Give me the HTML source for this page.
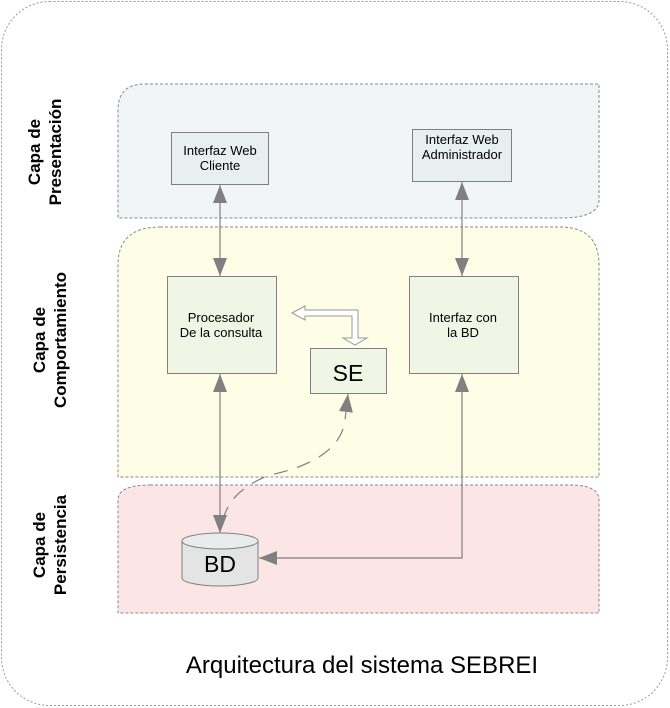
<!DOCTYPE html>
<html><head><meta charset="utf-8"><style>
html,body{margin:0;padding:0;background:#fff;}
svg{display:block;font-family:"Liberation Sans",sans-serif;}
</style></head><body>
<svg width="670" height="708" viewBox="0 0 670 708" xmlns="http://www.w3.org/2000/svg">
<defs>
<marker id="ah" markerWidth="18" markerHeight="14" refX="18" refY="7" orient="auto" markerUnits="userSpaceOnUse" viewBox="0 0 18 14">
<path d="M0,0 L18,7 L0,14 z" fill="#808080"/>
</marker>
<marker id="ahs" markerWidth="18" markerHeight="14" refX="0" refY="7" orient="auto" markerUnits="userSpaceOnUse" viewBox="0 0 18 14">
<path d="M18,0 L0,7 L18,14 z" fill="#808080"/>
</marker>
</defs>
<rect x="1.5" y="1.5" width="666" height="704" rx="48" fill="#fff" stroke="#999" stroke-dasharray="2,2"/>
<path d="M145,84 H599 V200 Q599,218 560,218 H118 V110 Q118,84 145,84 Z" fill="#f1f5f5" stroke="#888" stroke-dasharray="3,2"/>
<path d="M160,227 H560 Q599,227 599,265 V477 H118 V265 Q118,227 160,227 Z" fill="#fefde6" stroke="#888" stroke-dasharray="3,2"/>
<path d="M150,485 H570 Q599,485 599,500 V613 H118 V500 Q118,485 150,485 Z" fill="#fbe5e5" stroke="#888" stroke-dasharray="3,2"/>
<g font-weight="bold" font-size="17" fill="#000" text-anchor="middle">
<text transform="translate(40,152) rotate(-90)"><tspan x="0" y="0">Capa de</tspan><tspan x="0" y="21">Presentación</tspan></text>
<text transform="translate(45,340) rotate(-90)"><tspan x="0" y="0">Capa de</tspan><tspan x="0" y="21">Comportamiento</tspan></text>
<text transform="translate(45,545) rotate(-90)"><tspan x="0" y="0">Capa de</tspan><tspan x="0" y="21">Persistencia</tspan></text>
</g>
<g stroke="#808080" fill="#e8f0ef">
<rect x="171.5" y="132.5" width="97" height="52"/>
<rect x="412.5" y="129.5" width="99" height="52"/>
</g>
<g stroke="#808080" fill="#f0f6e6">
<rect x="167.5" y="276.5" width="109" height="97"/>
<rect x="409.5" y="276.5" width="109" height="97"/>
<rect x="310.5" y="348.5" width="76" height="45"/>
</g>
<g font-size="13" fill="#000" text-anchor="middle">
<text x="220" y="155">Interfaz Web</text><text x="220" y="170">Cliente</text>
<text x="462" y="144">Interfaz Web</text><text x="462" y="159">Administrador</text>
<text x="221" y="322">Procesador</text><text x="221" y="337">De la consulta</text>
<text x="463" y="322">Interfaz con</text><text x="463" y="337">la BD</text>
</g>
<text x="348" y="381" font-size="23" text-anchor="middle">SE</text>
<path d="M182,541 V578 A38,8 0 0 0 258,578 V541" fill="#e4e4e4" stroke="#808080"/>
<ellipse cx="220" cy="541" rx="38" ry="8" fill="#e8ecec" stroke="#808080"/>
<text x="220" y="572" font-size="23" text-anchor="middle">BD</text>
<g stroke="#808080" stroke-width="1.2" fill="none">
<line x1="220" y1="185" x2="220" y2="276" marker-start="url(#ahs)" marker-end="url(#ah)"/>
<line x1="462" y1="182" x2="462" y2="276" marker-start="url(#ahs)" marker-end="url(#ah)"/>
<line x1="220" y1="374" x2="220" y2="533" marker-start="url(#ahs)" marker-end="url(#ah)"/>
<path d="M462,374 V558 H259" marker-start="url(#ahs)" marker-end="url(#ah)"/>
<path d="M223,520 Q230,490 270,475 Q340,460 345,420 L348,394" stroke-dasharray="14,10" marker-end="url(#ah)"/>
</g>
<path d="M292,313 L305,306 V310 H358 V338 H367 L355,345 L343,338 H352 V316 H305 V320 Z" fill="#fff" stroke="#999"/>
<text x="362" y="673" font-size="24" text-anchor="middle">Arquitectura del sistema SEBREI</text>
</svg>
</body></html>
